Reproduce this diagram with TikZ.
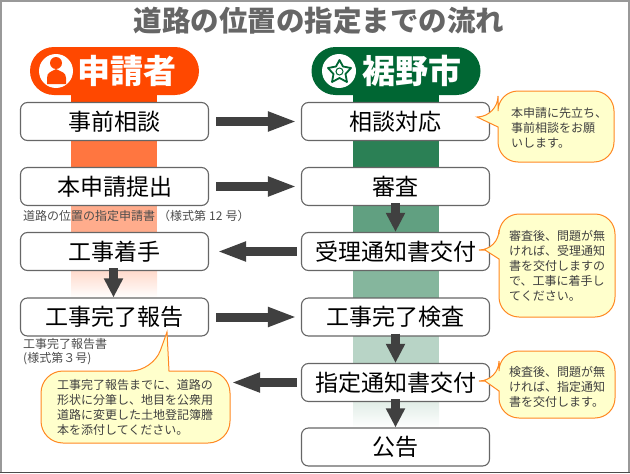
\documentclass[tikz,border=0pt]{standalone}
\usepackage{fontspec}
\setmainfont{Noto Sans CJK JP}
\usepackage{tikz}
\usetikzlibrary{arrows.meta, positioning}
\definecolor{applicantorange}{HTML}{FF4800}
\definecolor{citygreen}{HTML}{006633}
\definecolor{arrowgray}{HTML}{404040}
\definecolor{bubblefill}{HTML}{FFFFCC}
\definecolor{bubbleline}{HTML}{FF8822}

\begin{document}
\begin{tikzpicture}[
    x=1pt, y=-1pt,
    stepbox/.style={draw=gray!80!black, line width=1.1pt, fill=white, rounded corners=7pt, minimum width=188pt, minimum height=38pt, inner sep=0pt, font=\fontsize{23}{23}\selectfont, text=black},
    pill/.style={rounded corners=24pt, minimum width=169pt, minimum height=48pt, inner sep=0pt, font=\fontsize{33}{33}\selectfont\bfseries, text=white},
    blockflow/.style={draw=arrowgray, line width=9pt, -{Triangle[length=29pt, width=18pt]}},
    blockdown/.style={draw=arrowgray, line width=9pt, -{Triangle[length=19pt, width=18pt]}, shorten <=-3pt},
    bubble/.style={draw=bubbleline, fill=bubblefill, line width=1pt},
    bubbletext/.style={anchor=north west, align=left, inner sep=0pt, text=black!75, font=\fontsize{12}{15}\selectfont},
    formtext/.style={anchor=north west, align=left, inner sep=0pt, text=black!70, font=\fontsize{12}{14.5}\selectfont}
]
    \useasboundingbox (0,0) rectangle (630,474);

    % 1. Frame and title
    \draw[gray!80, line width=2pt] (1,473) -- (1,1) -- (629,1) -- (629,473);
    \draw[black!70, line width=1.5pt] (0,472.5) -- (630,472.5);
    \node[text=black!60, inner sep=0pt, font=\fontsize{28.5}{28.5}\selectfont\bfseries] (title) at (319,21) {道路の位置の指定までの流れ};

    % 2. Fading bands behind the boxes
    \foreach \y/\h/\o in {95/102/100, 141/167/75, 206/232/45} {
        \fill[applicantorange, opacity=\o/100] (71,\y) rectangle (157,\h);
    }
    \shade[top color=applicantorange!20, bottom color=white] (71,271) rectangle (157,298);
    \foreach \y/\h/\o in {95/102/100, 141/167/83, 206/232/62, 271/298/48, 336/363/28} {
        \fill[citygreen, opacity=\o/100] (353,\y) rectangle (439,\h);
    }
    \shade[top color=citygreen!12, bottom color=white] (353,401) rectangle (439,428);

    % 3. Headers
    \node[pill, fill=applicantorange] (applicant) at (114.5,71) {\hspace*{25pt}申請者};
    \node[pill, fill=citygreen] (city) at (396,71) {\hspace*{32pt}裾野市};
    % Person icon
    \fill[white] (56,71) circle (17);
    \fill[applicantorange] (56,63) circle (6);
    \fill[applicantorange] (47,84) -- (47,78) .. controls (47,72) and (51,72) .. (56,69) .. controls (61,72) and (66,72) .. (66,78) -- (66,84) -- cycle;
    % Star icon
    \fill[white] (339,71) circle (17);
    \draw[citygreen, line width=1.8pt, line join=round] (339.5,60) -- (343,66.5) -- (351,68) -- (345.5,74) -- (347,82) -- (339.5,78) -- (332,82) -- (333.5,74) -- (328,68) -- (336,66.5) -- cycle;
    \draw[citygreen, line width=1pt] (339.5,71.5) circle (3.5);

    % 4. Step boxes
    \node[stepbox] (consult) at (114.5,121.5) {事前相談};
    \node[stepbox] (apply) at (114.5,186.5) {本申請提出};
    \node[stepbox] (start) at (114.5,251.5) {工事着手};
    \node[stepbox] (report) at (114.5,317) {工事完了報告};
    \node[stepbox] (respond) at (395.5,121.5) {相談対応};
    \node[stepbox] (review) at (395.5,186.5) {審査};
    \node[stepbox] (notice) at (395.5,251.5) {受理通知書交付};
    \node[stepbox] (inspect) at (395.5,317) {工事完了検査};
    \node[stepbox] (designate) at (395.5,382.5) {指定通知書交付};
    \node[stepbox] (publish) at (395.5,447) {公告};

    % 5. Form names
    \node[formtext] (formone) at (23,210.5) {道路の位置の指定申請書\hspace{3pt}（様式第\hspace{3pt}12\hspace{3pt}号）};
    \node[formtext] (formtwo) at (23,338) {工事完了報告書\\(様式第３号)};

    % 6. Speech bubbles
    \filldraw[bubble] (477,117) -- (498,127) [rounded corners=20pt] -- (498,162) -- (614,162) -- (614,91) -- (498,91) -- (498,116) [sharp corners] -- cycle;
    \filldraw[bubble] (485,250) -- (499,259) [rounded corners=20pt] -- (499,317) -- (615,317) -- (615,214) -- (499,214) -- (499,250) [sharp corners] -- cycle;
    \filldraw[bubble] (485,381) -- (499,391) [rounded corners=20pt] -- (499,418) -- (615,418) -- (615,351) -- (499,351) -- (499,381) [sharp corners] -- cycle;
    \filldraw[bubble] (167,332) -- (169,371) [rounded corners=22pt] -- (230,371) -- (230,443) -- (41,443) -- (41,371) -- (153,371) [sharp corners] -- cycle;
    \coordinate (tipreportedge) at (231,382.5);
    \node[bubbletext] (tipconsult) at (511,107.5) {本申請に先立ち、\\事前相談をお願\\いします。};
    \node[bubbletext] (tipnotice) at (509,230.5) {審査後、問題が無\\ければ、受理通知\\書を交付しますの\\で、工事に着手し\\てください。};
    \node[bubbletext] (tipdesignate) at (509,366) {検査後、問題が無\\ければ、指定通知\\書を交付します。};
    \node[bubbletext] (tipreport) at (57,379) {工事完了報告までに、道路の\\形状に分筆し、地目を公衆用\\道路に変更した土地登記簿謄\\本を添付してください。};

    % 7. Block arrows
    \draw[blockflow, shorten <=7pt, shorten >=4pt] (consult) -- (respond);
    \draw[blockflow, shorten <=7pt, shorten >=4pt] (apply) -- (review);
    \draw[blockflow, shorten <=4pt, shorten >=8pt] (notice) -- (start);
    \draw[blockflow, shorten <=7pt, shorten >=4pt] (report) -- (inspect);
    \draw[blockflow, shorten <=4pt] (designate) -- (tipreportedge);
    \draw[blockdown] ([xshift=-1pt]start.south) -- ([xshift=-1pt]report.north);
    \draw[blockdown] (review) -- (notice);
    \draw[blockdown] (inspect) -- (designate);
    \draw[blockdown] (designate) -- (publish);
\end{tikzpicture}
\end{document}
